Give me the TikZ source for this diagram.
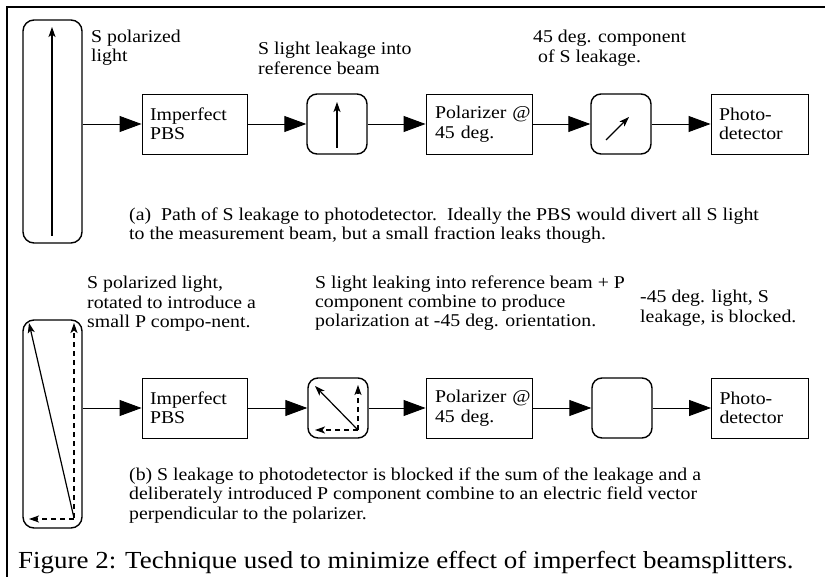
\documentclass[tikz,border=0pt]{standalone}
\usepackage{fontspec}
\setmainfont{Liberation Serif}[FakeStretch=1.1]
\usetikzlibrary{arrows.meta,calc}
\newcommand\bodyfont{\fontsize{18}{19.5}\selectfont}
\newcommand\capfont{\fontsize{24.5}{28}\selectfont}
\begin{document}
\begin{tikzpicture}[x=1pt,y=-1pt,
  sqbox/.style={draw,line width=0.9pt,minimum height=60pt,inner ysep=0pt,align=left,font=\bodyfont},
  rbox/.style={draw,line width=1.4pt,rounded corners=10pt,minimum width=60pt,minimum height=60pt,inner sep=0pt},
  tallbox/.style={draw,line width=1.4pt,rounded corners=11pt,minimum width=59pt,inner sep=0pt},
  conn/.style={line width=0.9pt,-{Triangle[length=22pt,width=16pt]}},
  vec/.style={line width=1.2pt,-{Stealth[length=10pt,width=7pt,inset=2.5pt]}},
  dvec/.style={vec,dash pattern=on 5pt off 4pt},
  lbl/.style={anchor=base west,inner sep=0pt,align=left,font=\bodyfont}]
\useasboundingbox (0,0) rectangle (825,577);
% frame
\draw[line width=2pt] (7,577) -- (7,7) -- (825,7);

% ---------------- row (a)
\node[tallbox,minimum height=223pt] (ta) at (52.5,131.5) {};
\node[sqbox,minimum width=105pt,text width=89pt,inner xsep=8pt] (pbsa) at (194.5,124) {Imperfect\\PBS};
\node[rbox] (ra1) at (337,124) {};
\node[sqbox,minimum width=106pt,text width=88pt,inner xsep=9pt] (pola) at (479,124) {Polarizer~@\\45 deg.};
\node[rbox] (ra2) at (621,124) {};
\node[sqbox,minimum width=97pt,text width=81pt,inner xsep=8pt] (pda) at (759.5,124) {Photo-\\detector};

\draw[conn] (ta.east |- pbsa.west) -- (pbsa.west);
\draw[conn] (pbsa.east) -- (ra1.west);
\draw[conn] (ra1.east) -- (pola.west);
\draw[conn] (pola.east) -- (ra2.west);
\draw[conn] (ra2.east) -- (pda.west);

\draw[vec] (52,236) -- (52,27);
\draw[vec] (337,148) -- (337,102);
\draw[vec] (606,140) -- (629,117);

\node[lbl] (la1) at (91,62) {S polarized\\light};
\node[lbl] (la2) at (258,74.5) {S light leakage into\\reference beam};
\node[lbl] (la3) at (533,62.5) {45 deg. component\\\ of S leakage.};
\node[lbl] (capa) at (129,240) {(a)\ \ Path of S leakage to photodetector.\ \ Ideally the PBS would divert all S light\\to the measurement beam, but a small fraction leaks though.};

% ---------------- row (b)
\node[tallbox,minimum height=208pt] (tb) at (52.5,424) {};
\node[sqbox,minimum width=105pt,text width=89pt,inner xsep=8pt] (pbsb) at (194.5,408) {Imperfect\\PBS};
\node[rbox] (rb1) at (338,408) {};
\node[sqbox,minimum width=106pt,text width=88pt,inner xsep=9pt] (polb) at (479,408) {Polarizer~@\\45 deg.};
\node[rbox] (rb2) at (622,408) {};
\node[sqbox,minimum width=97pt,text width=81pt,inner xsep=8pt] (pdb) at (760,408) {Photo-\\detector};

\draw[conn] (tb.east |- pbsb.west) -- (pbsb.west);
\draw[conn] (pbsb.east) -- (rb1.west);
\draw[conn] (rb1.east) -- (polb.west);
\draw[conn] (polb.east) -- (rb2.west);
\draw[conn] (rb2.east) -- (pdb.west);

\draw[vec] (74,518) -- (29,323);
\draw[dvec] (74,518) -- (74,323);
\draw[dvec] (74,519) -- (29,519);

\draw[vec] (358,430) -- (315,386);
\draw[dvec] (358,430) -- (358,385);
\draw[dvec] (358,430) -- (315,430);

\node[lbl] (lb1) at (87,328) {S polarized light,\\rotated to introduce a\\small P compo-nent.};
\node[lbl] (lb2) at (315,327) {S light leaking into reference beam + P\\component combine to produce\\polarization at -45 deg. orientation.};
\node[lbl] (lb3) at (640,322.5) {-45 deg. light, S\\leakage, is blocked.};
\node[lbl] (capb) at (129,519) {(b) S leakage to photodetector is blocked if the sum of the leakage and a\\deliberately introduced P component combine to an electric field vector\\perpendicular to the polarizer.};

\node[anchor=base west,inner sep=0pt,font=\capfont] (fig) at (18,568) {Figure 2: Technique used to minimize effect of imperfect beamsplitters.};
\end{tikzpicture}
\end{document}
